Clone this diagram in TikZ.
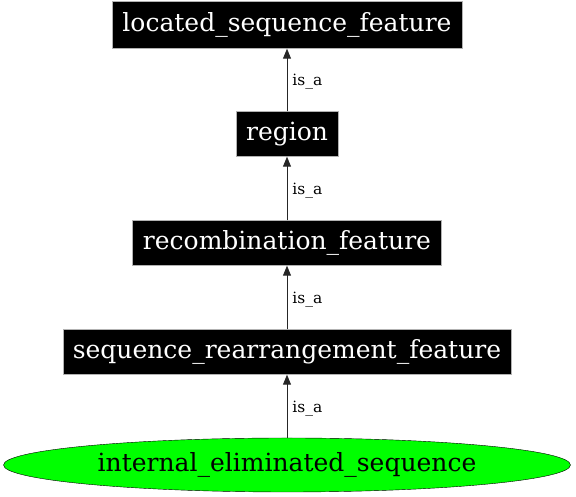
\documentclass[tikz,border=0pt]{standalone}
\usepackage{fontspec}
\setmainfont{DejaVu Serif}
\usetikzlibrary{arrows.meta,shapes.geometric}

\tikzset{
    termbox/.style={fill=black,text=white,draw=gray!60,minimum height=45pt,inner sep=0pt,font=\fontsize{25}{30}\selectfont},
    leafnode/.style={ellipse,fill=green,draw=black,inner sep=0pt,font=\fontsize{25}{30}\selectfont},
    isa/.style={-{Triangle[length=10pt,width=8pt]},black!85,line width=0.9pt},
    isalabel/.style={right,text=black,font=\fontsize{15.5}{18}\selectfont,inner sep=5pt,yshift=-2pt}
}

\begin{document}
\begin{tikzpicture}[x=1pt,y=1pt]
    \useasboundingbox (0,0) rectangle (576,497);
    \node[termbox,minimum width=350pt,minimum height=47pt] (located) at (287,472) {located\_sequence\_feature};
    \node[termbox,minimum width=102pt] (region) at (287,363) {region};
    \node[termbox,minimum width=309pt] (recomb) at (287,254) {recombination\_feature};
    \node[termbox,minimum width=448pt] (rearr) at (287,145) {sequence\_rearrangement\_feature};
    \node[leafnode,minimum width=567pt,minimum height=54pt] (internal) at (287,32) {internal\_eliminated\_sequence};
    \draw[isa] (region) -- node[isalabel] {is\_a} (located);
    \draw[isa] (recomb) -- node[isalabel] {is\_a} (region);
    \draw[isa] (rearr) -- node[isalabel] {is\_a} (recomb);
    \draw[isa] (internal) -- node[isalabel] {is\_a} (rearr);
\end{tikzpicture}
\end{document}
